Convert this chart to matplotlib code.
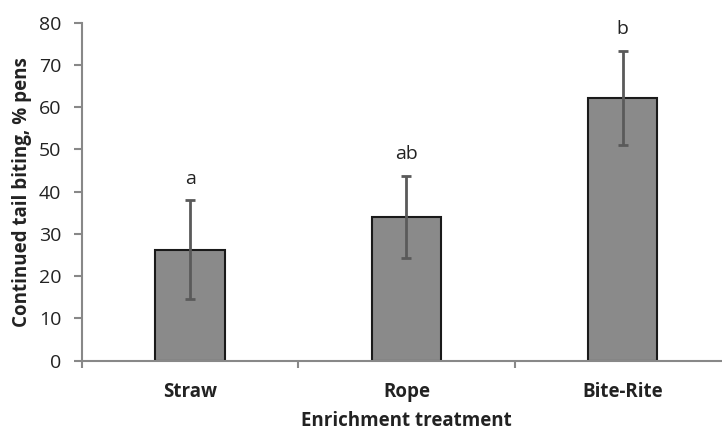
import matplotlib
matplotlib.use('Agg')
import matplotlib.pyplot as plt
import numpy as np

# treatment groups and % of pens with continued tail biting
treatments = ['Straw', 'Rope', 'Bite-Rite']
pct_pens = [26.3, 34.1, 62.2]
err = [11.7, 9.7, 11.2]
sig_letters = ['a', 'ab', 'b']

plt.rcParams['font.family'] = ['Open Sans', 'DejaVu Sans']

fig = plt.figure(figsize=(7.22, 4.32), dpi=100)
ax = fig.add_axes([81.9 / 722, (432 - 360.7) / 432, 649 / 722, 338 / 432])

x = np.arange(len(treatments))
ax.bar(x, pct_pens, width=0.32, color='#8a8a8a', edgecolor='#1a1a1a', linewidth=1.5, zorder=2)
ax.errorbar(x, pct_pens, yerr=err, fmt='none', ecolor='#5a5a5a', elinewidth=2,
            capsize=3.6, capthick=2, zorder=3)

# significance letters above the error bars
for i in range(len(x)):
    ax.annotate(sig_letters[i], (x[i], pct_pens[i] + err[i]), xytext=(0, 9),
                textcoords='offset points', ha='center', va='bottom',
                fontsize=14, color='#222222')

ax.set_xlim(-0.5, 2.5)
ax.set_ylim(0, 80)
ax.set_yticks(range(0, 81, 10))
ax.set_xticks(x)
ax.set_xticklabels(treatments, fontsize=13.5, fontweight='bold', color='#222222')
ax.set_xticks([-0.5, 0.5, 1.5, 2.5], minor=True)
ax.tick_params(axis='x', which='major', length=0, pad=15)
ax.tick_params(axis='x', which='minor', length=5, width=1.5, color='#888888', direction='out')
ax.tick_params(axis='y', length=6, width=1.5, color='#888888', labelsize=14,
               labelcolor='#222222', pad=9)

for s in ['top', 'right']:
    ax.spines[s].set_visible(False)
for s in ['left', 'bottom']:
    ax.spines[s].set_color('#888888')
    ax.spines[s].set_linewidth(1.5)

ax.set_ylabel('Continued tail biting, % pens', fontsize=13.5, fontweight='bold',
              color='#222222', labelpad=5)
ax.set_xlabel('Enrichment treatment', fontsize=13.5, fontweight='bold',
              color='#222222', labelpad=6.5)

fig.savefig('out.png', dpi=100)
